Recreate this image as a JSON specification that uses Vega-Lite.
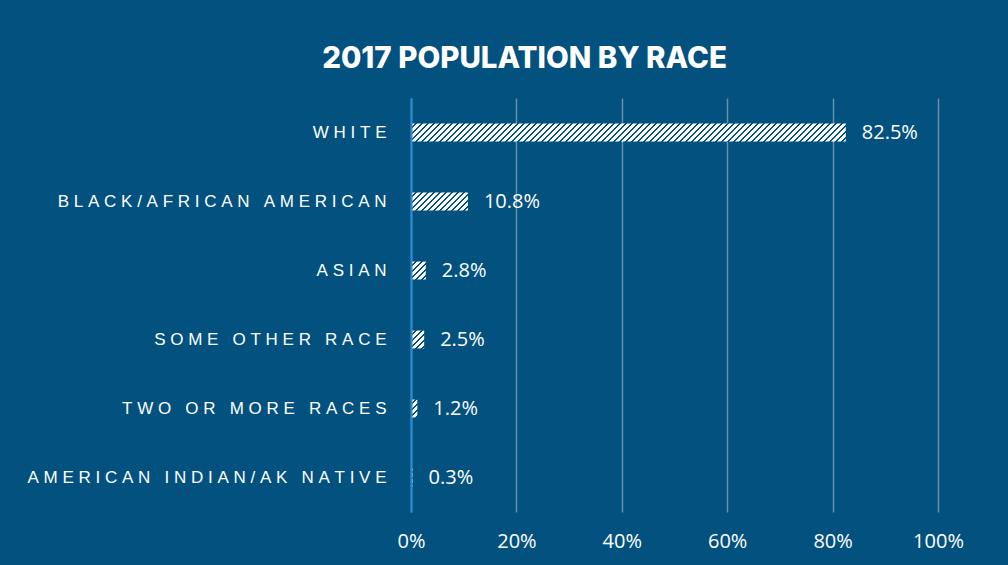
{
  "$schema": "https://vega.github.io/schema/vega-lite/v6.json",
  "width": 527,
  "height": 414,
  "autosize": {"type": "none"},
  "padding": {"left": 411, "top": 98, "right": 70, "bottom": 53},
  "background": "#02517f",
  "title": {
    "text": "2017 POPULATION BY RACE",
    "font": "Inter",
    "fontSize": 29.5,
    "fontWeight": 800,
    "color": "#ffffff",
    "anchor": "middle",
    "frame": "group",
    "dx": -150,
    "dy": 28,
    "offset": 23,
    "baseline": "bottom"
  },
  "data": {
    "values": [
      {"race": "WHITE", "pct": 0.825},
      {"race": "BLACK/AFRICAN AMERICAN", "pct": 0.108},
      {"race": "ASIAN", "pct": 0.028},
      {"race": "SOME OTHER RACE", "pct": 0.025},
      {"race": "TWO OR MORE RACES", "pct": 0.012},
      {"race": "AMERICAN INDIAN/AK NATIVE", "pct": 0.003}
    ]
  },
  "encoding": {
    "y": {
      "field": "race",
      "type": "nominal",
      "sort": null,
      "scale": {"paddingInner": 0.74, "paddingOuter": 0.37},
      "axis": {
        "title": null,
        "ticks": false,
        "domain": true,
        "domainColor": "#2a8ad4",
        "domainWidth": 2,
        "zindex": 1,
        "labelFont": "Liberation Sans",
        "labelFontSize": 17,
        "labelColor": "#ffffff",
        "labelPadding": 25,
        "labelLimit": 500,
        "labelExpr": "join(split(datum.label, ''), '\u00a0')"
      }
    },
    "x": {
      "field": "pct",
      "type": "quantitative",
      "scale": {"domain": [0, 1]},
      "axis": {
        "title": null,
        "values": [0, 0.2, 0.4, 0.6, 0.8, 1],
        "format": ".0%",
        "domain": false,
        "ticks": false,
        "grid": true,
        "gridColor": "#6790b0",
        "gridWidth": 1.5,
        "labelFont": "Open Sans",
        "labelFontSize": 20,
        "labelColor": "#ffffff",
        "labelPadding": 19,
        "labelFlush": false,
        "labelOverlap": false
      }
    }
  },
  "layer": [
    {
      "mark": {"type": "bar"},
      "encoding": {
        "fill": {
          "condition": [
            {
              "test": "datum.race === 'WHITE'",
              "value": {
                "gradient": "linear", "x1": 0, "y1": 0, "x2": 1.3776, "y2": 0.0567,
                "stops": [
                  {"offset": 0, "color": "#fff"}, {"offset": 0.0065, "color": "#fff"}, {"offset": 0.0065, "color": "#02517f"}, {"offset": 0.01, "color": "#02517f"},
                  {"offset": 0.01, "color": "#fff"}, {"offset": 0.0165, "color": "#fff"}, {"offset": 0.0165, "color": "#02517f"}, {"offset": 0.02, "color": "#02517f"},
                  {"offset": 0.02, "color": "#fff"}, {"offset": 0.0265, "color": "#fff"}, {"offset": 0.0265, "color": "#02517f"}, {"offset": 0.03, "color": "#02517f"},
                  {"offset": 0.03, "color": "#fff"}, {"offset": 0.0365, "color": "#fff"}, {"offset": 0.0365, "color": "#02517f"}, {"offset": 0.04, "color": "#02517f"},
                  {"offset": 0.04, "color": "#fff"}, {"offset": 0.0465, "color": "#fff"}, {"offset": 0.0465, "color": "#02517f"}, {"offset": 0.05, "color": "#02517f"},
                  {"offset": 0.05, "color": "#fff"}, {"offset": 0.0565, "color": "#fff"}, {"offset": 0.0565, "color": "#02517f"}, {"offset": 0.06, "color": "#02517f"},
                  {"offset": 0.06, "color": "#fff"}, {"offset": 0.0665, "color": "#fff"}, {"offset": 0.0665, "color": "#02517f"}, {"offset": 0.07, "color": "#02517f"},
                  {"offset": 0.07, "color": "#fff"}, {"offset": 0.0765, "color": "#fff"}, {"offset": 0.0765, "color": "#02517f"}, {"offset": 0.08, "color": "#02517f"},
                  {"offset": 0.08, "color": "#fff"}, {"offset": 0.0865, "color": "#fff"}, {"offset": 0.0865, "color": "#02517f"}, {"offset": 0.09, "color": "#02517f"},
                  {"offset": 0.09, "color": "#fff"}, {"offset": 0.0965, "color": "#fff"}, {"offset": 0.0965, "color": "#02517f"}, {"offset": 0.10, "color": "#02517f"},
                  {"offset": 0.10, "color": "#fff"}, {"offset": 0.1065, "color": "#fff"}, {"offset": 0.1065, "color": "#02517f"}, {"offset": 0.11, "color": "#02517f"},
                  {"offset": 0.11, "color": "#fff"}, {"offset": 0.1165, "color": "#fff"}, {"offset": 0.1165, "color": "#02517f"}, {"offset": 0.12, "color": "#02517f"},
                  {"offset": 0.12, "color": "#fff"}, {"offset": 0.1265, "color": "#fff"}, {"offset": 0.1265, "color": "#02517f"}, {"offset": 0.13, "color": "#02517f"},
                  {"offset": 0.13, "color": "#fff"}, {"offset": 0.1365, "color": "#fff"}, {"offset": 0.1365, "color": "#02517f"}, {"offset": 0.14, "color": "#02517f"},
                  {"offset": 0.14, "color": "#fff"}, {"offset": 0.1465, "color": "#fff"}, {"offset": 0.1465, "color": "#02517f"}, {"offset": 0.15, "color": "#02517f"},
                  {"offset": 0.15, "color": "#fff"}, {"offset": 0.1565, "color": "#fff"}, {"offset": 0.1565, "color": "#02517f"}, {"offset": 0.16, "color": "#02517f"},
                  {"offset": 0.16, "color": "#fff"}, {"offset": 0.1665, "color": "#fff"}, {"offset": 0.1665, "color": "#02517f"}, {"offset": 0.17, "color": "#02517f"},
                  {"offset": 0.17, "color": "#fff"}, {"offset": 0.1765, "color": "#fff"}, {"offset": 0.1765, "color": "#02517f"}, {"offset": 0.18, "color": "#02517f"},
                  {"offset": 0.18, "color": "#fff"}, {"offset": 0.1865, "color": "#fff"}, {"offset": 0.1865, "color": "#02517f"}, {"offset": 0.19, "color": "#02517f"},
                  {"offset": 0.19, "color": "#fff"}, {"offset": 0.1965, "color": "#fff"}, {"offset": 0.1965, "color": "#02517f"}, {"offset": 0.20, "color": "#02517f"},
                  {"offset": 0.20, "color": "#fff"}, {"offset": 0.2065, "color": "#fff"}, {"offset": 0.2065, "color": "#02517f"}, {"offset": 0.21, "color": "#02517f"},
                  {"offset": 0.21, "color": "#fff"}, {"offset": 0.2165, "color": "#fff"}, {"offset": 0.2165, "color": "#02517f"}, {"offset": 0.22, "color": "#02517f"},
                  {"offset": 0.22, "color": "#fff"}, {"offset": 0.2265, "color": "#fff"}, {"offset": 0.2265, "color": "#02517f"}, {"offset": 0.23, "color": "#02517f"},
                  {"offset": 0.23, "color": "#fff"}, {"offset": 0.2365, "color": "#fff"}, {"offset": 0.2365, "color": "#02517f"}, {"offset": 0.24, "color": "#02517f"},
                  {"offset": 0.24, "color": "#fff"}, {"offset": 0.2465, "color": "#fff"}, {"offset": 0.2465, "color": "#02517f"}, {"offset": 0.25, "color": "#02517f"},
                  {"offset": 0.25, "color": "#fff"}, {"offset": 0.2565, "color": "#fff"}, {"offset": 0.2565, "color": "#02517f"}, {"offset": 0.26, "color": "#02517f"},
                  {"offset": 0.26, "color": "#fff"}, {"offset": 0.2665, "color": "#fff"}, {"offset": 0.2665, "color": "#02517f"}, {"offset": 0.27, "color": "#02517f"},
                  {"offset": 0.27, "color": "#fff"}, {"offset": 0.2765, "color": "#fff"}, {"offset": 0.2765, "color": "#02517f"}, {"offset": 0.28, "color": "#02517f"},
                  {"offset": 0.28, "color": "#fff"}, {"offset": 0.2865, "color": "#fff"}, {"offset": 0.2865, "color": "#02517f"}, {"offset": 0.29, "color": "#02517f"},
                  {"offset": 0.29, "color": "#fff"}, {"offset": 0.2965, "color": "#fff"}, {"offset": 0.2965, "color": "#02517f"}, {"offset": 0.30, "color": "#02517f"},
                  {"offset": 0.30, "color": "#fff"}, {"offset": 0.3065, "color": "#fff"}, {"offset": 0.3065, "color": "#02517f"}, {"offset": 0.31, "color": "#02517f"},
                  {"offset": 0.31, "color": "#fff"}, {"offset": 0.3165, "color": "#fff"}, {"offset": 0.3165, "color": "#02517f"}, {"offset": 0.32, "color": "#02517f"},
                  {"offset": 0.32, "color": "#fff"}, {"offset": 0.3265, "color": "#fff"}, {"offset": 0.3265, "color": "#02517f"}, {"offset": 0.33, "color": "#02517f"},
                  {"offset": 0.33, "color": "#fff"}, {"offset": 0.3365, "color": "#fff"}, {"offset": 0.3365, "color": "#02517f"}, {"offset": 0.34, "color": "#02517f"},
                  {"offset": 0.34, "color": "#fff"}, {"offset": 0.3465, "color": "#fff"}, {"offset": 0.3465, "color": "#02517f"}, {"offset": 0.35, "color": "#02517f"},
                  {"offset": 0.35, "color": "#fff"}, {"offset": 0.3565, "color": "#fff"}, {"offset": 0.3565, "color": "#02517f"}, {"offset": 0.36, "color": "#02517f"},
                  {"offset": 0.36, "color": "#fff"}, {"offset": 0.3665, "color": "#fff"}, {"offset": 0.3665, "color": "#02517f"}, {"offset": 0.37, "color": "#02517f"},
                  {"offset": 0.37, "color": "#fff"}, {"offset": 0.3765, "color": "#fff"}, {"offset": 0.3765, "color": "#02517f"}, {"offset": 0.38, "color": "#02517f"},
                  {"offset": 0.38, "color": "#fff"}, {"offset": 0.3865, "color": "#fff"}, {"offset": 0.3865, "color": "#02517f"}, {"offset": 0.39, "color": "#02517f"},
                  {"offset": 0.39, "color": "#fff"}, {"offset": 0.3965, "color": "#fff"}, {"offset": 0.3965, "color": "#02517f"}, {"offset": 0.40, "color": "#02517f"},
                  {"offset": 0.40, "color": "#fff"}, {"offset": 0.4065, "color": "#fff"}, {"offset": 0.4065, "color": "#02517f"}, {"offset": 0.41, "color": "#02517f"},
                  {"offset": 0.41, "color": "#fff"}, {"offset": 0.4165, "color": "#fff"}, {"offset": 0.4165, "color": "#02517f"}, {"offset": 0.42, "color": "#02517f"},
                  {"offset": 0.42, "color": "#fff"}, {"offset": 0.4265, "color": "#fff"}, {"offset": 0.4265, "color": "#02517f"}, {"offset": 0.43, "color": "#02517f"},
                  {"offset": 0.43, "color": "#fff"}, {"offset": 0.4365, "color": "#fff"}, {"offset": 0.4365, "color": "#02517f"}, {"offset": 0.44, "color": "#02517f"},
                  {"offset": 0.44, "color": "#fff"}, {"offset": 0.4465, "color": "#fff"}, {"offset": 0.4465, "color": "#02517f"}, {"offset": 0.45, "color": "#02517f"},
                  {"offset": 0.45, "color": "#fff"}, {"offset": 0.4565, "color": "#fff"}, {"offset": 0.4565, "color": "#02517f"}, {"offset": 0.46, "color": "#02517f"},
                  {"offset": 0.46, "color": "#fff"}, {"offset": 0.4665, "color": "#fff"}, {"offset": 0.4665, "color": "#02517f"}, {"offset": 0.47, "color": "#02517f"},
                  {"offset": 0.47, "color": "#fff"}, {"offset": 0.4765, "color": "#fff"}, {"offset": 0.4765, "color": "#02517f"}, {"offset": 0.48, "color": "#02517f"},
                  {"offset": 0.48, "color": "#fff"}, {"offset": 0.4865, "color": "#fff"}, {"offset": 0.4865, "color": "#02517f"}, {"offset": 0.49, "color": "#02517f"},
                  {"offset": 0.49, "color": "#fff"}, {"offset": 0.4965, "color": "#fff"}, {"offset": 0.4965, "color": "#02517f"}, {"offset": 0.50, "color": "#02517f"},
                  {"offset": 0.50, "color": "#fff"}, {"offset": 0.5065, "color": "#fff"}, {"offset": 0.5065, "color": "#02517f"}, {"offset": 0.51, "color": "#02517f"},
                  {"offset": 0.51, "color": "#fff"}, {"offset": 0.5165, "color": "#fff"}, {"offset": 0.5165, "color": "#02517f"}, {"offset": 0.52, "color": "#02517f"},
                  {"offset": 0.52, "color": "#fff"}, {"offset": 0.5265, "color": "#fff"}, {"offset": 0.5265, "color": "#02517f"}, {"offset": 0.53, "color": "#02517f"},
                  {"offset": 0.53, "color": "#fff"}, {"offset": 0.5365, "color": "#fff"}, {"offset": 0.5365, "color": "#02517f"}, {"offset": 0.54, "color": "#02517f"},
                  {"offset": 0.54, "color": "#fff"}, {"offset": 0.5465, "color": "#fff"}, {"offset": 0.5465, "color": "#02517f"}, {"offset": 0.55, "color": "#02517f"},
                  {"offset": 0.55, "color": "#fff"}, {"offset": 0.5565, "color": "#fff"}, {"offset": 0.5565, "color": "#02517f"}, {"offset": 0.56, "color": "#02517f"},
                  {"offset": 0.56, "color": "#fff"}, {"offset": 0.5665, "color": "#fff"}, {"offset": 0.5665, "color": "#02517f"}, {"offset": 0.57, "color": "#02517f"},
                  {"offset": 0.57, "color": "#fff"}, {"offset": 0.5765, "color": "#fff"}, {"offset": 0.5765, "color": "#02517f"}, {"offset": 0.58, "color": "#02517f"},
                  {"offset": 0.58, "color": "#fff"}, {"offset": 0.5865, "color": "#fff"}, {"offset": 0.5865, "color": "#02517f"}, {"offset": 0.59, "color": "#02517f"},
                  {"offset": 0.59, "color": "#fff"}, {"offset": 0.5965, "color": "#fff"}, {"offset": 0.5965, "color": "#02517f"}, {"offset": 0.60, "color": "#02517f"},
                  {"offset": 0.60, "color": "#fff"}, {"offset": 0.6065, "color": "#fff"}, {"offset": 0.6065, "color": "#02517f"}, {"offset": 0.61, "color": "#02517f"},
                  {"offset": 0.61, "color": "#fff"}, {"offset": 0.6165, "color": "#fff"}, {"offset": 0.6165, "color": "#02517f"}, {"offset": 0.62, "color": "#02517f"},
                  {"offset": 0.62, "color": "#fff"}, {"offset": 0.6265, "color": "#fff"}, {"offset": 0.6265, "color": "#02517f"}, {"offset": 0.63, "color": "#02517f"},
                  {"offset": 0.63, "color": "#fff"}, {"offset": 0.6365, "color": "#fff"}, {"offset": 0.6365, "color": "#02517f"}, {"offset": 0.64, "color": "#02517f"},
                  {"offset": 0.64, "color": "#fff"}, {"offset": 0.6465, "color": "#fff"}, {"offset": 0.6465, "color": "#02517f"}, {"offset": 0.65, "color": "#02517f"},
                  {"offset": 0.65, "color": "#fff"}, {"offset": 0.6565, "color": "#fff"}, {"offset": 0.6565, "color": "#02517f"}, {"offset": 0.66, "color": "#02517f"},
                  {"offset": 0.66, "color": "#fff"}, {"offset": 0.6665, "color": "#fff"}, {"offset": 0.6665, "color": "#02517f"}, {"offset": 0.67, "color": "#02517f"},
                  {"offset": 0.67, "color": "#fff"}, {"offset": 0.6765, "color": "#fff"}, {"offset": 0.6765, "color": "#02517f"}, {"offset": 0.68, "color": "#02517f"},
                  {"offset": 0.68, "color": "#fff"}, {"offset": 0.6865, "color": "#fff"}, {"offset": 0.6865, "color": "#02517f"}, {"offset": 0.69, "color": "#02517f"},
                  {"offset": 0.69, "color": "#fff"}, {"offset": 0.6965, "color": "#fff"}, {"offset": 0.6965, "color": "#02517f"}, {"offset": 0.70, "color": "#02517f"},
                  {"offset": 0.70, "color": "#fff"}, {"offset": 0.7065, "color": "#fff"}, {"offset": 0.7065, "color": "#02517f"}, {"offset": 0.71, "color": "#02517f"},
                  {"offset": 0.71, "color": "#fff"}, {"offset": 0.7165, "color": "#fff"}, {"offset": 0.7165, "color": "#02517f"}, {"offset": 0.72, "color": "#02517f"},
                  {"offset": 0.72, "color": "#fff"}, {"offset": 0.7265, "color": "#fff"}, {"offset": 0.7265, "color": "#02517f"}, {"offset": 0.73, "color": "#02517f"},
                  {"offset": 0.73, "color": "#fff"}, {"offset": 0.7365, "color": "#fff"}, {"offset": 0.7365, "color": "#02517f"}, {"offset": 0.74, "color": "#02517f"},
                  {"offset": 0.74, "color": "#fff"}, {"offset": 0.7465, "color": "#fff"}, {"offset": 0.7465, "color": "#02517f"}, {"offset": 0.75, "color": "#02517f"},
                  {"offset": 0.75, "color": "#fff"}, {"offset": 0.7565, "color": "#fff"}, {"offset": 0.7565, "color": "#02517f"}, {"offset": 0.76, "color": "#02517f"}
                ]
              }
            },
            {
              "test": "datum.race === 'BLACK/AFRICAN AMERICAN'",
              "value": {
                "gradient": "linear", "x1": 0, "y1": 0, "x2": 9.592, "y2": 3.0166,
                "stops": [
                  {"offset": 0, "color": "#fff"}, {"offset": 0.0065, "color": "#fff"}, {"offset": 0.0065, "color": "#02517f"}, {"offset": 0.01, "color": "#02517f"},
                  {"offset": 0.01, "color": "#fff"}, {"offset": 0.0165, "color": "#fff"}, {"offset": 0.0165, "color": "#02517f"}, {"offset": 0.02, "color": "#02517f"},
                  {"offset": 0.02, "color": "#fff"}, {"offset": 0.0265, "color": "#fff"}, {"offset": 0.0265, "color": "#02517f"}, {"offset": 0.03, "color": "#02517f"},
                  {"offset": 0.03, "color": "#fff"}, {"offset": 0.0365, "color": "#fff"}, {"offset": 0.0365, "color": "#02517f"}, {"offset": 0.04, "color": "#02517f"},
                  {"offset": 0.04, "color": "#fff"}, {"offset": 0.0465, "color": "#fff"}, {"offset": 0.0465, "color": "#02517f"}, {"offset": 0.05, "color": "#02517f"},
                  {"offset": 0.05, "color": "#fff"}, {"offset": 0.0565, "color": "#fff"}, {"offset": 0.0565, "color": "#02517f"}, {"offset": 0.06, "color": "#02517f"},
                  {"offset": 0.06, "color": "#fff"}, {"offset": 0.0665, "color": "#fff"}, {"offset": 0.0665, "color": "#02517f"}, {"offset": 0.07, "color": "#02517f"},
                  {"offset": 0.07, "color": "#fff"}, {"offset": 0.0765, "color": "#fff"}, {"offset": 0.0765, "color": "#02517f"}, {"offset": 0.08, "color": "#02517f"},
                  {"offset": 0.08, "color": "#fff"}, {"offset": 0.0865, "color": "#fff"}, {"offset": 0.0865, "color": "#02517f"}, {"offset": 0.09, "color": "#02517f"},
                  {"offset": 0.09, "color": "#fff"}, {"offset": 0.0965, "color": "#fff"}, {"offset": 0.0965, "color": "#02517f"}, {"offset": 0.10, "color": "#02517f"},
                  {"offset": 0.10, "color": "#fff"}, {"offset": 0.1065, "color": "#fff"}, {"offset": 0.1065, "color": "#02517f"}, {"offset": 0.11, "color": "#02517f"},
                  {"offset": 0.11, "color": "#fff"}, {"offset": 0.1165, "color": "#fff"}, {"offset": 0.1165, "color": "#02517f"}, {"offset": 0.12, "color": "#02517f"},
                  {"offset": 0.12, "color": "#fff"}, {"offset": 0.1265, "color": "#fff"}, {"offset": 0.1265, "color": "#02517f"}, {"offset": 0.13, "color": "#02517f"}
                ]
              }
            },
            {
              "test": "datum.race === 'ASIAN'",
              "value": {
                "gradient": "linear", "x1": 0, "y1": 0, "x2": 16.455, "y2": 19.955,
                "stops": [
                  {"offset": 0, "color": "#fff"}, {"offset": 0.0065, "color": "#fff"}, {"offset": 0.0065, "color": "#02517f"}, {"offset": 0.01, "color": "#02517f"},
                  {"offset": 0.01, "color": "#fff"}, {"offset": 0.0165, "color": "#fff"}, {"offset": 0.0165, "color": "#02517f"}, {"offset": 0.02, "color": "#02517f"},
                  {"offset": 0.02, "color": "#fff"}, {"offset": 0.0265, "color": "#fff"}, {"offset": 0.0265, "color": "#02517f"}, {"offset": 0.03, "color": "#02517f"},
                  {"offset": 0.03, "color": "#fff"}, {"offset": 0.0365, "color": "#fff"}, {"offset": 0.0365, "color": "#02517f"}, {"offset": 0.04, "color": "#02517f"},
                  {"offset": 0.04, "color": "#fff"}, {"offset": 0.0465, "color": "#fff"}, {"offset": 0.0465, "color": "#02517f"}, {"offset": 0.05, "color": "#02517f"},
                  {"offset": 0.05, "color": "#fff"}, {"offset": 0.0565, "color": "#fff"}, {"offset": 0.0565, "color": "#02517f"}, {"offset": 0.06, "color": "#02517f"}
                ]
              }
            },
            {
              "test": "datum.race === 'SOME OTHER RACE'",
              "value": {
                "gradient": "linear", "x1": 0, "y1": 0, "x2": 16.002, "y2": 21.74,
                "stops": [
                  {"offset": 0, "color": "#fff"}, {"offset": 0.0065, "color": "#fff"}, {"offset": 0.0065, "color": "#02517f"}, {"offset": 0.01, "color": "#02517f"},
                  {"offset": 0.01, "color": "#fff"}, {"offset": 0.0165, "color": "#fff"}, {"offset": 0.0165, "color": "#02517f"}, {"offset": 0.02, "color": "#02517f"},
                  {"offset": 0.02, "color": "#fff"}, {"offset": 0.0265, "color": "#fff"}, {"offset": 0.0265, "color": "#02517f"}, {"offset": 0.03, "color": "#02517f"},
                  {"offset": 0.03, "color": "#fff"}, {"offset": 0.0365, "color": "#fff"}, {"offset": 0.0365, "color": "#02517f"}, {"offset": 0.04, "color": "#02517f"},
                  {"offset": 0.04, "color": "#fff"}, {"offset": 0.0465, "color": "#fff"}, {"offset": 0.0465, "color": "#02517f"}, {"offset": 0.05, "color": "#02517f"},
                  {"offset": 0.05, "color": "#fff"}, {"offset": 0.0565, "color": "#fff"}, {"offset": 0.0565, "color": "#02517f"}, {"offset": 0.06, "color": "#02517f"}
                ]
              }
            },
            {
              "test": "datum.race === 'TWO OR MORE RACES'",
              "value": {
                "gradient": "linear", "x1": 0, "y1": 0, "x2": 10.528, "y2": 29.80,
                "stops": [
                  {"offset": 0, "color": "#fff"}, {"offset": 0.0065, "color": "#fff"}, {"offset": 0.0065, "color": "#02517f"}, {"offset": 0.01, "color": "#02517f"},
                  {"offset": 0.01, "color": "#fff"}, {"offset": 0.0165, "color": "#fff"}, {"offset": 0.0165, "color": "#02517f"}, {"offset": 0.02, "color": "#02517f"},
                  {"offset": 0.02, "color": "#fff"}, {"offset": 0.0265, "color": "#fff"}, {"offset": 0.0265, "color": "#02517f"}, {"offset": 0.03, "color": "#02517f"},
                  {"offset": 0.03, "color": "#fff"}, {"offset": 0.0365, "color": "#fff"}, {"offset": 0.0365, "color": "#02517f"}, {"offset": 0.04, "color": "#02517f"},
                  {"offset": 0.04, "color": "#fff"}, {"offset": 0.0465, "color": "#fff"}, {"offset": 0.0465, "color": "#02517f"}, {"offset": 0.05, "color": "#02517f"}
                ]
              }
            },
            {
              "test": "datum.race === 'AMERICAN INDIAN/AK NATIVE'",
              "value": {
                "gradient": "linear", "x1": 0, "y1": 0, "x2": 2.938, "y2": 33.26,
                "stops": [
                  {"offset": 0, "color": "#fff"}, {"offset": 0.0065, "color": "#fff"}, {"offset": 0.0065, "color": "#02517f"}, {"offset": 0.01, "color": "#02517f"},
                  {"offset": 0.01, "color": "#fff"}, {"offset": 0.0165, "color": "#fff"}, {"offset": 0.0165, "color": "#02517f"}, {"offset": 0.02, "color": "#02517f"},
                  {"offset": 0.02, "color": "#fff"}, {"offset": 0.0265, "color": "#fff"}, {"offset": 0.0265, "color": "#02517f"}, {"offset": 0.03, "color": "#02517f"},
                  {"offset": 0.03, "color": "#fff"}, {"offset": 0.0365, "color": "#fff"}, {"offset": 0.0365, "color": "#02517f"}, {"offset": 0.04, "color": "#02517f"}
                ]
              }
            }
          ],
          "value": "#b3cadb"
        }
      }
    },
    {
      "mark": {"type": "text", "align": "left", "baseline": "middle", "dx": 16, "font": "Open Sans", "fontSize": 20, "color": "#ffffff"},
      "encoding": {"text": {"field": "pct", "type": "quantitative", "format": ".1%"}}
    }
  ],
  "config": {"view": {"stroke": null}}
}
